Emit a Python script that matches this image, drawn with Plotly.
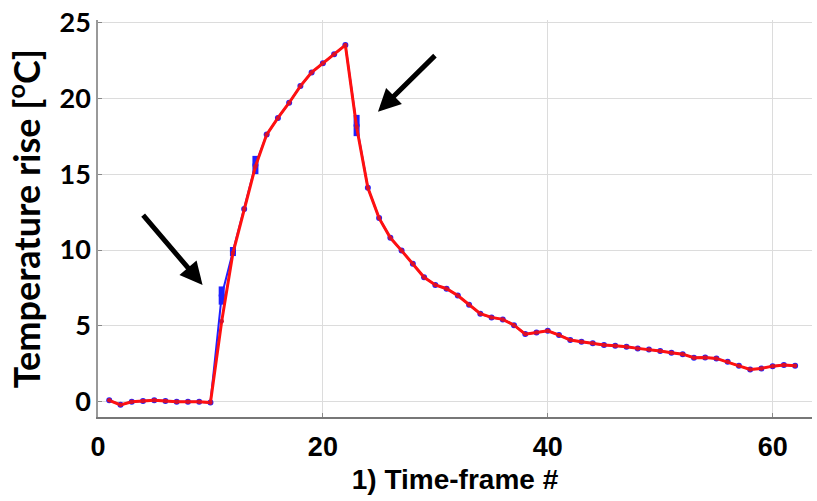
import plotly.graph_objects as go

# Data
frames = list(range(1, 63))
red_vals = [0.1, -0.2, 0.0, 0.05, 0.1, 0.05, 0.0, 0.0, 0.0, -0.05,
            5.3, 9.8, 12.7, 15.5, 17.6, 18.7, 19.7, 20.8, 21.7, 22.3,
            22.9, 23.5, 18.1, 14.1, 12.1, 10.8, 9.96, 9.1, 8.2, 7.7,
            7.45, 7.0, 6.4, 5.8, 5.56, 5.43, 5.05, 4.46, 4.57, 4.68,
            4.4, 4.07, 3.96, 3.85, 3.74, 3.69, 3.63, 3.52, 3.45, 3.34,
            3.23, 3.14, 2.9, 2.92, 2.86, 2.64, 2.37, 2.13, 2.2, 2.35,
            2.42, 2.37]
blue_vals = list(red_vals)
blue_vals[10] = 7.0
blue_vals[11] = 9.9
blue_vals[13] = 15.6
blue_vals[22] = 18.2
blue_err = [0.0] * len(frames)
blue_err[10] = 0.6
blue_err[11] = 0.3
blue_err[13] = 0.6
blue_err[22] = 0.7

x_ticks = [0, 20, 40, 60]
y_ticks = [0, 5, 10, 15, 20, 25]

fig = go.Figure()
fig.add_trace(go.Scatter(
    x=frames, y=blue_vals, mode="lines+markers",
    line=dict(color="#2020ff", width=2),
    marker=dict(color="#2020ff", size=6),
    error_y=dict(type="data", array=blue_err, visible=True,
                 color="#2020ff", thickness=6, width=0),
    showlegend=False,
))
fig.add_trace(go.Scatter(
    x=frames, y=red_vals, mode="lines+markers",
    line=dict(color="#ff1010", width=3),
    marker=dict(color="#d8102a", size=4.5),
    showlegend=False,
))

fig.add_annotation(x=9.3, y=7.7, ax=3.9, ay=12.4, axref="x", ayref="y",
                   xref="x", yref="y", text="", showarrow=True,
                   arrowhead=2, arrowsize=0.9, arrowwidth=5, arrowcolor="black")
fig.add_annotation(x=24.9, y=19.1, ax=30.1, ay=22.9, axref="x", ayref="y",
                   xref="x", yref="y", text="", showarrow=True,
                   arrowhead=2, arrowsize=0.9, arrowwidth=5, arrowcolor="black")

fig.update_layout(
    width=817, height=501,
    margin=dict(l=98, r=5, t=20, b=84, autoexpand=False),
    paper_bgcolor="white", plot_bgcolor="white",
    xaxis=dict(
        range=[0, 63.5], tickvals=x_ticks, showgrid=True, gridcolor="#dcdcdc",
        gridwidth=1, zeroline=False, showline=True, linecolor="#777777",
        linewidth=2, ticks="inside", ticklen=4, tickcolor="#888888",
        automargin=False, ticklabeloverflow="allow",
        tickfont=dict(family="Liberation Sans", size=27, color="black", weight="bold"),
        ticklabelstandoff=5,
        title=dict(text="1) Time-frame #", standoff=8,
                   font=dict(family="Liberation Sans", size=28, color="black", weight="bold")),
    ),
    yaxis=dict(
        range=[-1, 25.15], tickvals=y_ticks, showgrid=True, gridcolor="#dcdcdc",
        gridwidth=1, zeroline=False, showline=True, linecolor="#999999",
        linewidth=1.5, ticks="inside", ticklen=4, tickcolor="#888888",
        automargin=False, ticklabeloverflow="allow",
        tickfont=dict(family="Lato", size=27, color="black", weight="bold"),
        title=dict(text="Temperature rise [<sup>o</sup>C]", standoff=12,
                   font=dict(family="Lato", size=36, color="black", weight="bold")),
    ),
)

fig.write_html("out.html", config={"displayModeBar": False},
               post_script="document.body.style.margin='0px';")
